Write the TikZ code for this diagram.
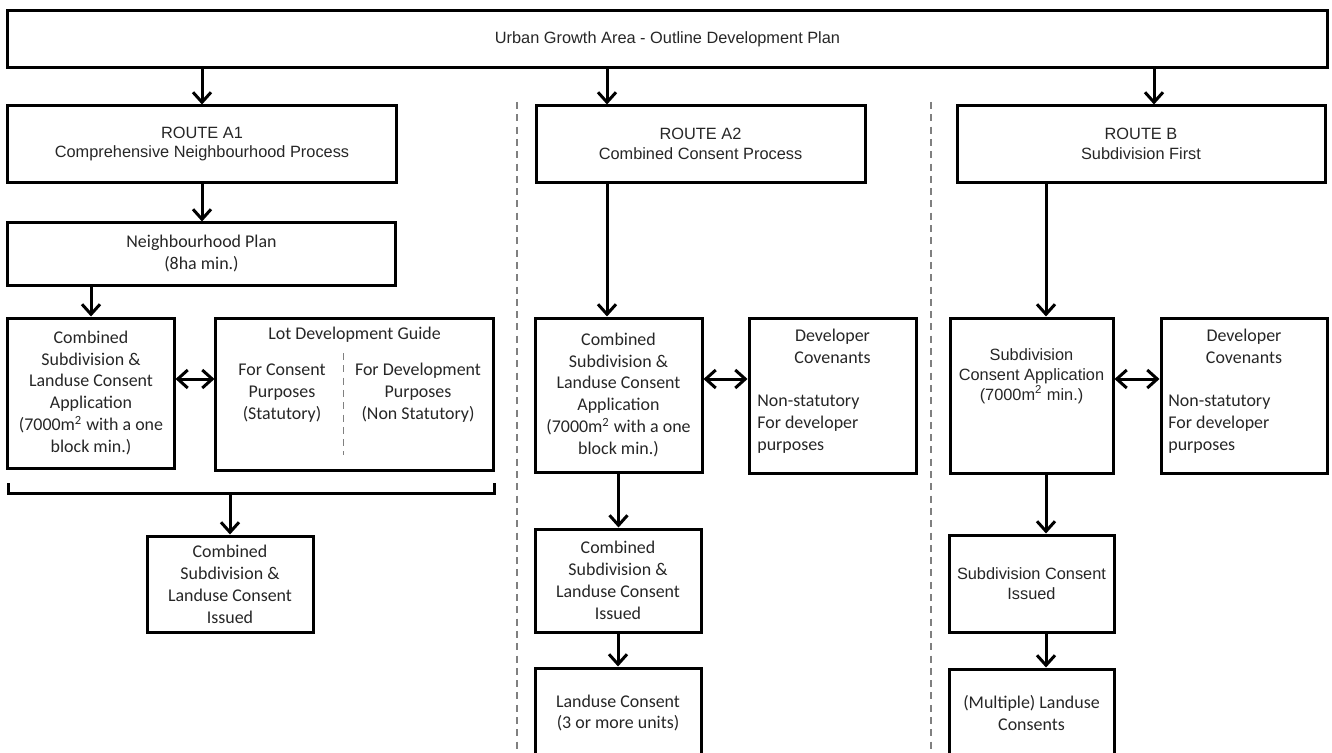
\documentclass[tikz,border=0pt]{standalone}
\usepackage{fontspec}
\setmainfont{Carlito}
\newfontfamily\arialfont{Liberation Sans}
\usetikzlibrary{arrows.meta}

\tikzset{
	plainbox/.style = {draw, line width=0.6mm, align=center, inner sep=1pt, text=black!85,
		font=\fontsize{10.2}{12.5}\selectfont},
	arialbox/.style = {plainbox, font=\arialfont\fontsize{9.3}{11.3}\selectfont},
	txt/.style = {align=center, inner sep=0pt, text=black!85, font=\fontsize{10.2}{12.5}\selectfont},
	arr/.style = {line width=0.6mm, -{Straight Barb[length=2mm,width=3.6mm]}},
	darr/.style = {line width=0.6mm, {Straight Barb[length=2mm,width=3.6mm]}-{Straight Barb[length=2mm,width=3.6mm]}},
	divline/.style = {gray, line width=0.25mm, dash pattern=on 4pt off 3pt},
}

\begin{document}
\begin{tikzpicture}[x=0.2mm,y=-0.2mm]
	\useasboundingbox (0,0) rectangle (1332,753);
	\clip (0,0) rectangle (1332,753);

	% top and routes
	\node[arialbox, minimum width=263.8mm, minimum height=11.4mm] (top) at (667.5,39.5) {Urban Growth Area - Outline Development Plan};
	\node[arialbox, minimum width=77.6mm, minimum height=15.2mm] (routeA1) at (202,144) {ROUTE A1\\Comprehensive Neighbourhood Process};
	\node[arialbox, minimum width=65.8mm, minimum height=15.2mm] (routeA2) at (700.5,144) {ROUTE A2\\Combined Consent Process};
	\node[arialbox, minimum width=73.6mm, minimum height=15.2mm] (routeB) at (1141,144) {ROUTE B\\Subdivision First};

	\coordinate (colA2) at (607,0);
	\coordinate (colB) at (1154,0);
	\coordinate (colB2) at (1046,0);
	\coordinate (rowD) at (0,379);

	\draw[divline] (517,102) -- (517,753);
	\draw[divline] (931,102) -- (931,753);

	% route A1
	\node[plainbox, minimum width=77.4mm, minimum height=12.4mm] (nplan) at (201.5,254) {Neighbourhood Plan\\(8ha min.)};
	\node[plainbox, minimum width=33.2mm, minimum height=30mm] (combA1) at (91,393) {Combined\\Subdivision \&\\Landuse Consent\\Application\\(7000m\textsuperscript{2} with a one\\block min.)};
	\node[plainbox, minimum width=55.4mm, minimum height=30.4mm] (ldg) at (354.5,394) {};
	\node[txt] (ldgtitle) at (354.5,335) {Lot Development Guide};
	\node[txt] (ldgleft) at (282,393) {For Consent\\Purposes\\(Statutory)};
	\node[txt] (ldgright) at (418,393) {For Development\\Purposes\\(Non Statutory)};
	\draw[divline, line width=0.15mm] (343,353) -- (343,455);
	\node[plainbox, minimum width=33.2mm, minimum height=19.2mm] (issuedA1) at (230,584) {Combined\\Subdivision \&\\Landuse Consent\\Issued};

	\coordinate (brL) at (8,483);
	\coordinate (brR) at (494,483);
	\coordinate (brM) at (230,493);

	\draw[arr] (top.south -| routeA1.north) -- (routeA1.north);
	\draw[arr] (routeA1.south) -- (nplan.north -| routeA1.south);
	\draw[arr] (nplan.south -| combA1.north) -- (combA1.north);
	\draw[darr] (combA1.east |- rowD) -- (ldg.west |- rowD);
	\draw[line width=0.6mm] (brL) |- (brM) -| (brR);
	\draw[arr] (brM) -- (issuedA1.north);

	% route A2
	\node[plainbox, minimum width=33.4mm, minimum height=30.8mm] (combA2) at (618.5,395) {Combined\\Subdivision \&\\Landuse Consent\\Application\\(7000m\textsuperscript{2} with a one\\block min.)};
	\node[plainbox, minimum width=33.4mm, minimum height=31mm] (covA2) at (832.5,395.5) {};
	\node[txt] (covA2title) at (832.5,346.5) {Developer\\Covenants};
	\node[txt, align=left, anchor=west] (covA2note) at (757,424) {Non-statutory\\For developer\\purposes};
	\node[plainbox, minimum width=33.2mm, minimum height=20.6mm] (issuedA2) at (618,580.5) {Combined\\Subdivision \&\\Landuse Consent\\Issued};
	\node[plainbox, minimum width=33.2mm, minimum height=18mm] (luA2) at (618,713) {Landuse Consent\\(3 or more units)};

	\draw[arr] (top.south -| colA2) -- (routeA2.north -| colA2);
	\draw[arr] (routeA2.south -| colA2) -- (combA2.north -| colA2);
	\draw[darr] (combA2.east |- rowD) -- (covA2.west |- rowD);
	\draw[arr] (combA2.south) -- (issuedA2.north -| combA2.south);
	\draw[arr] (issuedA2.south) -- (luA2.north);

	% route B
	\node[arialbox, minimum width=32.6mm, minimum height=31mm] (subB) at (1031.5,395.5) {};
	\node[txt, font=\arialfont\fontsize{9.3}{11.3}\selectfont] (subBtxt) at (1031.5,376) {Subdivision\\Consent Application\\(7000m\textsuperscript{2} min.)};
	\node[plainbox, minimum width=33.2mm, minimum height=31mm] (covB) at (1244,395.5) {};
	\node[txt] (covBtitle) at (1244,346.5) {Developer\\Covenants};
	\node[txt, align=left, anchor=west] (covBnote) at (1168,424) {Non-statutory\\For developer\\purposes};
	\node[arialbox, minimum width=33mm, minimum height=19.4mm] (issuedB) at (1031.5,583.5) {Subdivision Consent\\Issued};
	\node[plainbox, minimum width=33mm, minimum height=17.6mm] (multB) at (1031.5,713) {(Multiple) Landuse\\Consents};

	\draw[arr] (top.south -| colB) -- (routeB.north -| colB);
	\draw[arr] (routeB.south -| colB2) -- (subB.north -| colB2);
	\draw[darr] (subB.east |- rowD) -- (covB.west |- rowD);
	\draw[arr] (subB.south -| colB2) -- (issuedB.north -| colB2);
	\draw[arr] (issuedB.south -| colB2) -- (multB.north -| colB2);
\end{tikzpicture}
\end{document}
